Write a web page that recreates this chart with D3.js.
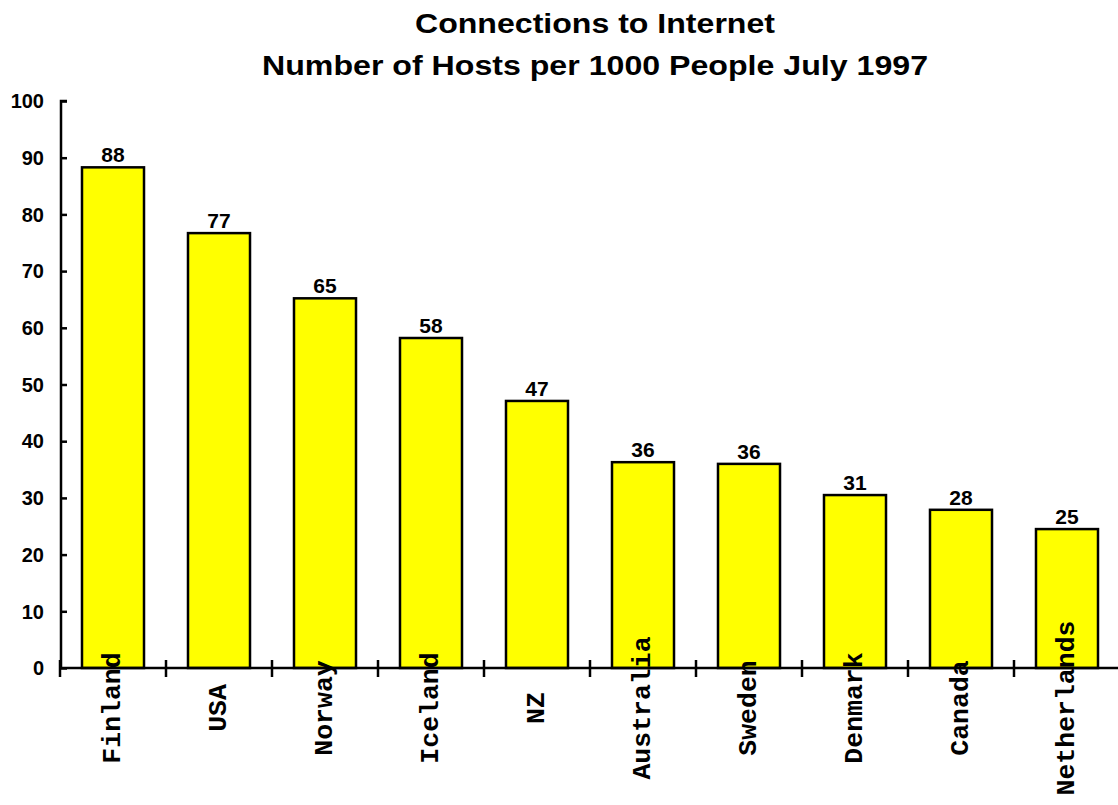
<!DOCTYPE html>
<html>
<head>
<meta charset="utf-8">
<script src="https://cdn.jsdelivr.net/npm/d3@7"></script>
<style>
  html, body { margin: 0; padding: 0; background: #fff; }
  svg { display: block; }
</style>
</head>
<body>
<svg id="chart" width="1118" height="805"></svg>
<script>
const titleLines = ["Connections to Internet", "Number of Hosts per 1000 People July 1997"];
const categories = ["Finland", "USA", "Norway", "Iceland", "NZ", "Australia", "Sweden", "Denmark", "Canada", "Netherlands"];
const values = [88.3, 76.7, 65.2, 58.2, 47.1, 36.3, 36.0, 30.5, 27.9, 24.5];
const valueLabels = ["88", "77", "65", "58", "47", "36", "36", "31", "28", "25"];
const yTicks = [0, 10, 20, 30, 40, 50, 60, 70, 80, 90, 100];

const svg = d3.select("#chart");
const x0 = 60, x1 = 1120, yBottom = 668, yTop = 101;

const x = d3.scaleBand().domain(categories).range([x0, x1]).paddingInner(0.415).paddingOuter(0.2075);
const y = d3.scaleLinear().domain([0, 100]).range([yBottom, yTop]);

// Title
const titleWidths = [360, 666];
svg.append("g").selectAll("text").data(titleLines).join("text")
  .attr("x", 595).attr("y", (d, i) => 33 + i * 42)
  .attr("text-anchor", "middle")
  .attr("font-family", "Liberation Sans, Arial, sans-serif")
  .attr("font-weight", "bold").attr("font-size", 28)
  .attr("textLength", (d, i) => titleWidths[i])
  .attr("lengthAdjust", "spacingAndGlyphs")
  .text(d => d);

// Bars
svg.append("g").selectAll("rect").data(categories).join("rect")
  .attr("x", d => x(d))
  .attr("width", x.bandwidth())
  .attr("y", (d, i) => y(values[i]))
  .attr("height", (d, i) => yBottom - y(values[i]))
  .attr("fill", "#ffff00").attr("stroke", "#000").attr("stroke-width", 2.5);

// Value labels
svg.append("g").selectAll("text").data(categories).join("text")
  .attr("x", d => x(d) + x.bandwidth() / 2)
  .attr("y", (d, i) => y(values[i]) - 5)
  .attr("text-anchor", "middle")
  .attr("font-family", "Liberation Sans, Arial, sans-serif")
  .attr("font-weight", "bold").attr("font-size", 21)
  .text((d, i) => valueLabels[i]);

// Y axis
const yAxis = d3.axisRight(y).tickValues(yTicks).tickSize(6).tickFormat("");
const yg = svg.append("g").attr("transform", `translate(${x0 + 1},0)`).call(yAxis);
yg.select(".domain").attr("d", `M6,${yTop}H0V${yBottom}`).attr("stroke-width", 2.5);
yg.selectAll(".tick line").attr("stroke-width", 2.5);
svg.append("g").selectAll("text").data(yTicks).join("text")
  .attr("x", 44).attr("y", d => y(d))
  .attr("dy", "0.36em")
  .attr("text-anchor", "end")
  .attr("font-family", "Liberation Sans, Arial, sans-serif")
  .attr("font-weight", "bold").attr("font-size", 20)
  .text(d => d);

// X axis line
svg.append("line").attr("x1", x0).attr("x2", 1118).attr("y1", yBottom).attr("y2", yBottom)
  .attr("stroke", "#000").attr("stroke-width", 2.5);
// X ticks at band boundaries
const step = x.step();
const boundaries = d3.range(categories.length + 1).map(i => x0 + i * step);
svg.append("g").selectAll("line").data(boundaries).join("line")
  .attr("x1", d => d).attr("x2", d => d)
  .attr("y1", yBottom - 8).attr("y2", yBottom + 9)
  .attr("stroke", "#000").attr("stroke-width", 2.5);

// X category labels (rotated)
svg.append("g").selectAll("text").data(categories).join("text")
  .attr("transform", d => `translate(${x(d) + x.bandwidth() / 2 + 7},708) rotate(-90)`)
  .attr("text-anchor", "middle")
  .attr("font-family", "Liberation Mono, Courier New, monospace")
  .attr("font-weight", "bold")
  .attr("font-size", 26.5)
  .text(d => d);
</script>
</body>
</html>
